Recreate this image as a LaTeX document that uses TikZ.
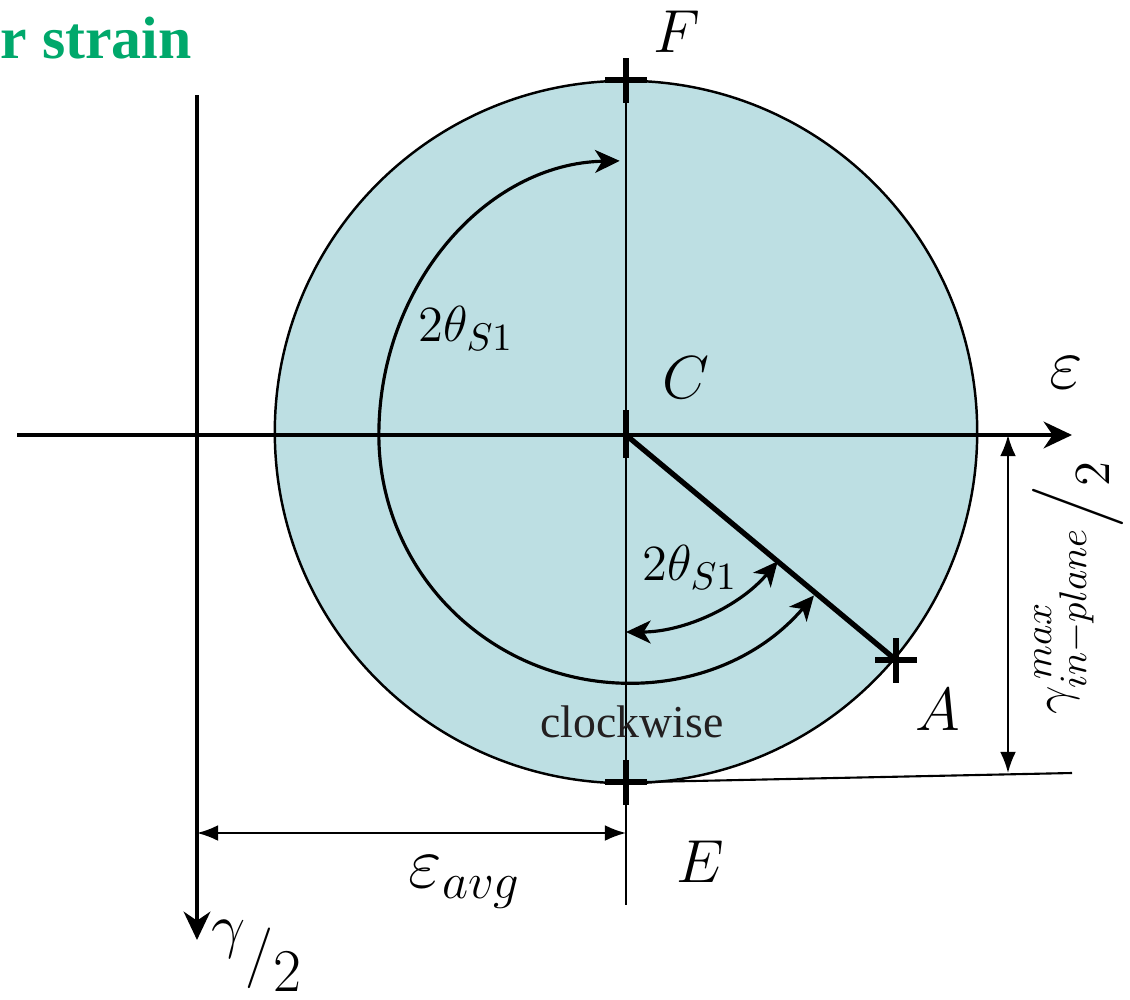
\documentclass[tikz,border=0pt]{standalone}
\usepackage{fontspec}
\setmainfont{Liberation Serif}
\usepackage{amsmath}
\usetikzlibrary{arrows.meta,calc}
\definecolor{mohrfill}{RGB}{189,223,227}
\definecolor{headgreen}{RGB}{0,168,107}
\definecolor{cwgray}{RGB}{35,31,32}

\begin{document}
\begin{tikzpicture}[
    x=0.01cm, y=-0.01cm,
    ax/.style={line width=1.4pt, -{Stealth[length=8pt,width=7.5pt,inset=2.5pt]}},
    thinl/.style={line width=0.6pt},
    dim/.style={line width=0.6pt, {Latex[length=6pt,width=4.5pt]}-{Latex[length=6pt,width=4.5pt]}},
    tick/.style={line width=1.5pt},
    ang/.style={line width=0.9pt, {Stealth[length=7pt,width=6.5pt,inset=2pt]}-{Stealth[length=7pt,width=6.5pt,inset=2pt]}},
    lab/.style={font=\fontsize{19}{22}\selectfont},
    sml/.style={font=\fontsize{15}{18}\selectfont},
]
\useasboundingbox (0,0) rectangle (1130,1000);

% points of the diagram
\coordinate (C) at (626,435);
\coordinate (M) at (626,432);
\coordinate (F) at (626,80);
\coordinate (E) at (626,782);
\coordinate (A) at (896,660);
\coordinate (xL) at (17,435);
\coordinate (xR) at (1072,435);
\coordinate (yT) at (197,95);
\coordinate (yB) at (197,940);
\coordinate (vB) at (626,905);
\coordinate (extL) at (646,782);
\coordinate (extR) at (1072,773);
\coordinate (dT) at (1008,435);
\coordinate (dB) at (1008,773);
\coordinate (hL) at (197,833);
\coordinate (hR) at (626,833);

% circle
\fill[mohrfill] (M) circle[radius=3.51cm];
\draw[line width=0.7pt] (M) circle[radius=3.51cm];

% axes and lines
\draw[thinl] (F) -- (vB);
\draw[ax] (xL) -- (xR);
\draw[ax] (yT) -- (yB);
\draw[line width=1.5pt] (C) -- (A);
\draw[thinl] (extL) -- (extR);

% crosses
\foreach \p in {F,E,A} {
  \draw[tick] ($(\p)+(-21,0)$) -- ($(\p)+(21,0)$);
  \draw[tick] ($(\p)+(0,-22)$) -- ($(\p)+(0,23)$);
}
\draw[tick] ($(C)+(0,-25)$) -- ($(C)+(0,23)$);

% angle arrows
\draw[ang] ($(C)+(-40.5:2.47cm)$) arc[start angle=-40.5, end angle=-180, radius=2.47cm]
  arc[start angle=180, end angle=91, x radius=2.45cm, y radius=2.74cm];
\draw[ang] ($(C)+(0,197)$) arc[start angle=-90, end angle=-40, radius=1.98cm];

% dimensions
\draw[dim] (dT) -- (dB);
\draw[dim] (hL) -- (hR);

% labels
\node[anchor=base west, inner sep=0pt, text=headgreen, font=\fontsize{17}{20}\selectfont\bfseries] (title) at (0,58) {r strain};
\node[lab] (Flab) at (677,32) {$F$};
\node[lab] (Clab) at (686,378) {$C$};
\node[lab] (Alab) at (938,710) {$A$};
\node[lab] (Elab) at (700,862) {$E$};
\node[font=\fontsize{20}{22}\selectfont] (eps) at (1066,373) {$\varepsilon$};
\node[sml] (ang1) at (466,328) {$2\theta_{S1}$};
\node[sml] (ang2) at (690,567) {$2\theta_{S1}$};
\node[text=cwgray, font=\fontsize{13}{15}\selectfont] (cw) at (632,722) {clockwise};
\node[font=\fontsize{21}{24}\selectfont] (eavg) at (465,882) {$\varepsilon_{avg}$};
\node[font=\fontsize{17}{20}\selectfont] (gam) at (256,956) {\raisebox{.45em}{$\gamma$}$/$\raisebox{-.3em}{$2$}};
\node[sml, rotate=90] (gmax) at (1078,588) {\raisebox{.3em}{$\gamma^{\,max}_{in{-}plane}$}\raisebox{-.1em}{$\Big/$}\raisebox{-.45em}{$2$}};
\end{tikzpicture}
\end{document}
